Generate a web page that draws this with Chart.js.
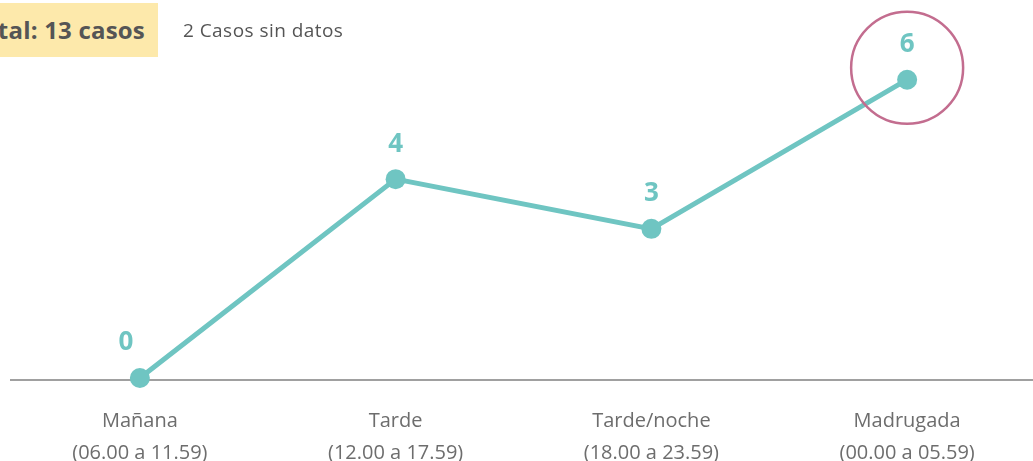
<!DOCTYPE html>
<html>
<head>
<meta charset="utf-8">
<script src="https://cdn.jsdelivr.net/npm/chart.js@4"></script>
<style>
  html, body { margin: 0; padding: 0; background: #fff; overflow: hidden; }
  #wrap { position: relative; width: 1033px; height: 461px; overflow: hidden; }
  #total {
    position: absolute; left: -80px; top: 3px; width: 238px; height: 54px;
    background: #fde9ab; color: #555; font: bold 24px "Open Sans", sans-serif;
    line-height: 54px; text-align: right; box-sizing: border-box; padding-right: 13px;
    white-space: nowrap; letter-spacing: 0.2px;
  }
  #nodata {
    position: absolute; left: 183px; top: 17px; color: #555;
    font: 19px "Open Sans", sans-serif; letter-spacing: 0.45px;
  }
</style>
</head>
<body>
<div id="wrap">
  <canvas id="myChart" width="1045" height="461"></canvas>
  <div id="total">Total: 13 casos</div>
  <div id="nodata">2 Casos sin datos</div>
</div>
<script>
const categories = [
  ['Mañana', '(06.00 a 11.59)'],
  ['Tarde', '(12.00 a 17.59)'],
  ['Tarde/noche', '(18.00 a 23.59)'],
  ['Madrugada', '(00.00 a 05.59)']
];
const casos = [0, 4, 3, 6];

const teal = '#6fc5c2';

// numbers over the points + ring around the highest one
const labelsPlugin = {
  id: 'valueLabels',
  afterDatasetsDraw(chart) {
    const ctx = chart.ctx;
    const meta = chart.getDatasetMeta(0);
    ctx.save();
    ctx.font = 'bold 26px "Open Sans", sans-serif';
    ctx.fillStyle = teal;
    ctx.textAlign = 'center';
    ctx.textBaseline = 'middle';
    meta.data.forEach(function (pt, i) {
      let dx = (i == 0) ? -14 : 0;
      ctx.fillText(String(casos[i]), pt.x + dx, pt.y - 35);
    });
    let maxI = casos.indexOf(Math.max.apply(null, casos));
    let p = meta.data[maxI];
    ctx.beginPath();
    ctx.strokeStyle = '#c36d8f';
    ctx.lineWidth = 2.5;
    ctx.arc(p.x, p.y - 12, 56, 0, Math.PI * 2);
    ctx.stroke();
    ctx.restore();
  },
  beforeDatasetsDraw(chart) {
    const ctx = chart.ctx;
    const y = chart.scales.y.getPixelForValue(0) + 2;
    ctx.save();
    ctx.strokeStyle = '#808080';
    ctx.lineWidth = 1.5;
    ctx.beginPath();
    ctx.moveTo(10, y);
    ctx.lineTo(chart.width, y);
    ctx.stroke();
    ctx.restore();
  }
};

const ctx = document.getElementById('myChart');
new Chart(ctx, {
  type: 'line',
  data: {
    labels: categories,
    datasets: [{
      data: casos,
      borderColor: teal,
      backgroundColor: teal,
      borderWidth: 5,
      pointRadius: 10,
      pointHoverRadius: 10,
      pointBorderWidth: 0,
      tension: 0,
      clip: false
    }]
  },
  options: {
    responsive: false,
    animation: false,
    events: [],
    layout: { padding: { left: 12, right: 0, top: 30, bottom: 0 } },
    plugins: { legend: { display: false }, tooltip: { enabled: false } },
    scales: {
      x: {
        offset: true,
        grid: { display: false },
        border: { display: false },
        afterFit: function (scale) { scale.height = 83; },
        ticks: {
          color: '#6d6d6d',
          font: { family: '"Open Sans", sans-serif', size: 20, lineHeight: 1.6 },
          padding: 19,
          maxRotation: 0
        }
      },
      y: {
        display: false,
        min: 0,
        max: 7
      }
    }
  },
  plugins: [labelsPlugin]
});
</script>
</body>
</html>
